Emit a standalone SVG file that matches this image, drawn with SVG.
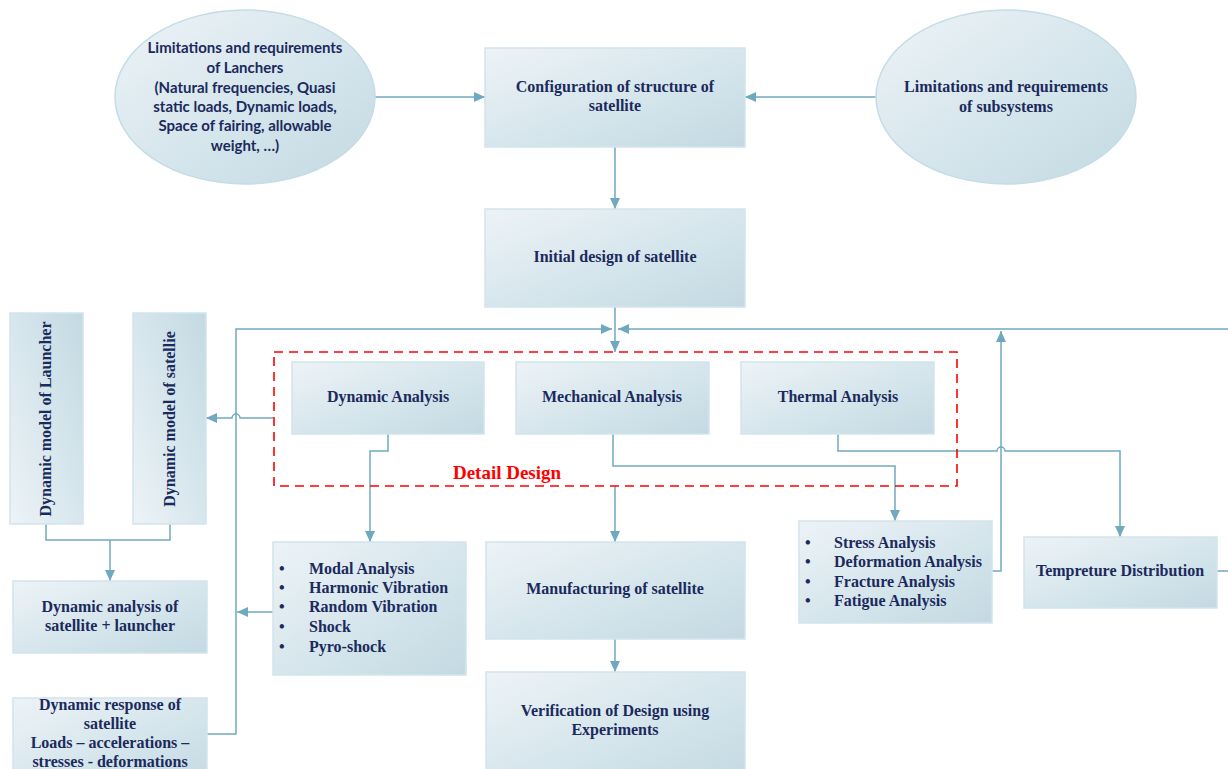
<svg xmlns="http://www.w3.org/2000/svg" width="1228" height="769" viewBox="0 0 1228 769">
<style>
.box{fill:url(#g);stroke:#d2e4ec;stroke-width:1.5}
.vbox{fill:url(#gv);stroke:#d2e4ec;stroke-width:1.5}
.ell{fill:url(#g);stroke:#c3dce6;stroke-width:1.5}
.t{font-family:"Liberation Serif","Times New Roman",serif;font-weight:bold;font-size:16px;fill:#1b2a5c}
.c{text-anchor:middle}
.s{font-family:Lato,"Liberation Sans",sans-serif;font-weight:bold;font-size:15px;fill:#1b2a5c;text-anchor:middle}
.ln{fill:none;stroke:#6fa9bf;stroke-width:1.5}
.ar{marker-end:url(#ah)}
.red{font-family:"Liberation Serif","Times New Roman",serif;font-weight:bold;font-size:19px;fill:#ff0000;text-anchor:middle}
</style>
<defs>
<linearGradient id="g" x1="0" y1="0" x2="1" y2="1">
<stop offset="0" stop-color="#edf3f7"/>
<stop offset="0.6" stop-color="#d3e4eb"/>
<stop offset="1" stop-color="#c3d9e2"/>
</linearGradient>
<linearGradient id="gv" x1="0" y1="1" x2="1" y2="0">
<stop offset="0" stop-color="#edf3f7"/>
<stop offset="0.6" stop-color="#d3e4eb"/>
<stop offset="1" stop-color="#c3d9e2"/>
</linearGradient>
<marker id="ah" markerUnits="userSpaceOnUse" markerWidth="11" markerHeight="10" refX="11" refY="5" orient="auto">
<path d="M0,0 L11,5 L0,10 z" fill="#6fa9bf"/>
</marker>
</defs>

<g id="connectors">
<path class="ln ar" d="M375,97 H485"/>
<path class="ln ar" d="M876,97 H745"/>
<path class="ln ar" d="M615,147 V209"/>
<path class="ln ar" d="M615,307 V352"/>
<path class="ln ar" d="M207,734 H236 V329 H612"/>
<path class="ln ar" d="M1228,329 H618"/>
<path class="ln ar" d="M992,571 H1001 V331"/>
<path class="ln" d="M1217,571 H1228"/>
<path class="ln ar" d="M273,418 H240 A4,4 0 0 0 232,418 H206"/>
<path class="ln ar" d="M388,434 V451 H370 V542"/>
<path class="ln ar" d="M613,434 V466 H895 V521"/>
<path class="ln ar" d="M838,434 V451 H997 A4,4 0 0 1 1005,451 H1120 V537"/>
<path class="ln ar" d="M615,486 V542"/>
<path class="ln ar" d="M615,639 V672"/>
<path class="ln" d="M46,524 V540 H170 V524"/>
<path class="ln ar" d="M110,540 V581"/>
<path class="ln ar" d="M273,612 H237"/>
</g>

<g id="detail-design">
<rect x="274" y="352" width="683" height="134" fill="none" stroke="#ff0000" stroke-width="1.6" stroke-dasharray="9,6"/>
<text class="red" x="507" y="479">Detail Design</text>
</g>

<g id="launcher-req">
<ellipse class="ell" cx="245" cy="97" rx="130" ry="87"/>
<text class="s" x="245" y="53">Limitations and requirements</text>
<text class="s" x="245" y="73">of Lanchers</text>
<text class="s" x="245" y="93">(Natural frequencies, Quasi</text>
<text class="s" x="245" y="112">static loads, Dynamic loads,</text>
<text class="s" x="245" y="131">Space of fairing, allowable</text>
<text class="s" x="245" y="151">weight, …)</text>
</g>

<g id="configuration">
<rect class="box" x="485" y="48" width="260" height="99"/>
<text class="t c" x="615" y="92">Configuration of structure of</text>
<text class="t c" x="615" y="111">satellite</text>
</g>

<g id="subsystem-req">
<ellipse class="ell" cx="1006" cy="97" rx="130" ry="87"/>
<text class="t c" x="1006" y="92">Limitations and requirements</text>
<text class="t c" x="1006" y="112">of subsystems</text>
</g>

<g id="initial-design">
<rect class="box" x="485" y="209" width="260" height="98"/>
<text class="t c" x="615" y="262">Initial design of satellite</text>
</g>

<g id="model-launcher">
<rect class="vbox" x="10" y="313" width="73" height="211"/>
<text class="t c" transform="translate(51,419) rotate(-90)">Dynamic model of Launcher</text>
</g>

<g id="model-satellite">
<rect class="vbox" x="133" y="313" width="73" height="211"/>
<text class="t c" transform="translate(175,419) rotate(-90)">Dynamic model of satellie</text>
</g>

<g id="dynamic-analysis">
<rect class="box" x="292" y="362" width="192" height="72"/>
<text class="t c" x="388" y="402">Dynamic Analysis</text>
</g>

<g id="mechanical-analysis">
<rect class="box" x="516" y="362" width="193" height="72"/>
<text class="t c" x="612" y="402">Mechanical Analysis</text>
</g>

<g id="thermal-analysis">
<rect class="box" x="741" y="362" width="193" height="72"/>
<text class="t c" x="838" y="402">Thermal Analysis</text>
</g>

<g id="dynamic-list">
<rect class="box" x="273" y="542" width="193" height="133"/>
<text class="t" x="279" y="574">•</text><text class="t" x="309" y="574">Modal Analysis</text>
<text class="t" x="279" y="593">•</text><text class="t" x="309" y="593">Harmonic Vibration</text>
<text class="t" x="279" y="612">•</text><text class="t" x="309" y="612">Random Vibration</text>
<text class="t" x="279" y="632">•</text><text class="t" x="309" y="632">Shock</text>
<text class="t" x="279" y="652">•</text><text class="t" x="309" y="652">Pyro-shock</text>
</g>

<g id="manufacturing">
<rect class="box" x="486" y="542" width="259" height="97"/>
<text class="t c" x="615" y="594">Manufacturing of satellite</text>
</g>

<g id="verification">
<rect class="box" x="486" y="672" width="259" height="110"/>
<text class="t c" x="615" y="716">Verification of Design using</text>
<text class="t c" x="615" y="735">Experiments</text>
</g>

<g id="mechanical-list">
<rect class="box" x="799" y="521" width="193" height="102"/>
<text class="t" x="805" y="548">•</text><text class="t" x="834" y="548">Stress Analysis</text>
<text class="t" x="805" y="567">•</text><text class="t" x="834" y="567">Deformation Analysis</text>
<text class="t" x="805" y="587">•</text><text class="t" x="834" y="587">Fracture Analysis</text>
<text class="t" x="805" y="606">•</text><text class="t" x="834" y="606">Fatigue Analysis</text>
</g>

<g id="temperature">
<rect class="box" x="1024" y="537" width="193" height="71"/>
<text class="t c" x="1120" y="576">Tempreture Distribution</text>
</g>

<g id="dynamic-sat-launcher">
<rect class="box" x="13" y="581" width="194" height="72"/>
<text class="t c" x="110" y="612">Dynamic analysis of</text>
<text class="t c" x="110" y="631">satellite + launcher</text>
</g>

<g id="dynamic-response">
<rect class="box" x="13" y="698" width="194" height="90"/>
<text class="t c" x="110" y="710">Dynamic response of</text>
<text class="t c" x="110" y="729">satellite</text>
<text class="t c" x="110" y="748">Loads – accelerations –</text>
<text class="t c" x="110" y="767">stresses - deformations</text>
</g>
</svg>
